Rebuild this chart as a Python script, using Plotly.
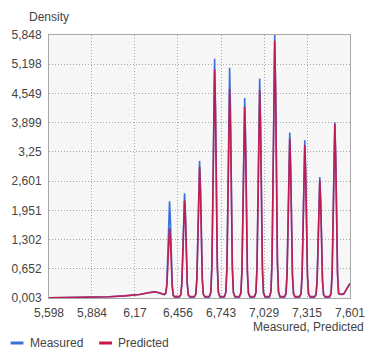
import plotly.graph_objects as go

# x positions of the density curve samples
x_pts = [
    5.598, 5.7, 5.8, 5.9, 6.0, 6.1, 6.2, 6.26, 6.3, 6.33, 6.355,
    6.365, 6.375, 6.382, 6.388, 6.394, 6.4, 6.406, 6.412, 6.418, 6.425, 6.435, 6.45,
    6.465, 6.475, 6.482, 6.488, 6.494, 6.5, 6.506, 6.512, 6.518, 6.525, 6.535, 6.55,
    6.565, 6.575, 6.582, 6.588, 6.594, 6.6, 6.606, 6.612, 6.618, 6.625, 6.635, 6.65,
    6.665, 6.675, 6.682, 6.688, 6.694, 6.7, 6.706, 6.712, 6.718, 6.725, 6.735, 6.75,
    6.765, 6.775, 6.782, 6.788, 6.794, 6.8, 6.806, 6.812, 6.818, 6.825, 6.835, 6.85,
    6.865, 6.875, 6.882, 6.888, 6.894, 6.9, 6.906, 6.912, 6.918, 6.925, 6.935, 6.95,
    6.965, 6.975, 6.982, 6.988, 6.994, 7.0, 7.006, 7.012, 7.018, 7.025, 7.035, 7.05,
    7.065, 7.075, 7.082, 7.088, 7.094, 7.1, 7.106, 7.112, 7.118, 7.125, 7.135, 7.15,
    7.165, 7.175, 7.182, 7.188, 7.194, 7.2, 7.206, 7.212, 7.218, 7.225, 7.235, 7.25,
    7.265, 7.275, 7.282, 7.288, 7.294, 7.3, 7.306, 7.312, 7.318, 7.325, 7.335, 7.35,
    7.365, 7.375, 7.382, 7.388, 7.394, 7.4, 7.406, 7.412, 7.418, 7.425, 7.435, 7.45,
    7.465, 7.475, 7.482, 7.488, 7.494, 7.5, 7.506, 7.512, 7.518, 7.525, 7.535, 7.55,
    7.56, 7.601,
]

measured = [
    0.006, 0.008, 0.012, 0.018, 0.03, 0.05, 0.08, 0.12, 0.14, 0.12, 0.08,
    0.08, 0.10, 0.31, 0.90, 1.74, 2.15, 1.74, 0.90, 0.31, 0.065, 0.022, 0.012,
    0.022, 0.07, 0.33, 0.98, 1.88, 2.33, 1.88, 0.98, 0.33, 0.07, 0.022, 0.015,
    0.023, 0.084, 0.43, 1.27, 2.46, 3.05, 2.46, 1.27, 0.43, 0.084, 0.023, 0.015,
    0.025, 0.13, 0.74, 2.20, 4.28, 5.32, 4.28, 2.20, 0.74, 0.13, 0.025, 0.015,
    0.025, 0.13, 0.71, 2.12, 4.12, 5.12, 4.12, 2.12, 0.71, 0.13, 0.025, 0.015,
    0.024, 0.113, 0.62, 1.84, 3.58, 4.45, 3.58, 1.84, 0.62, 0.113, 0.024, 0.015,
    0.025, 0.12, 0.68, 2.02, 3.92, 4.88, 3.92, 2.02, 0.68, 0.12, 0.025, 0.015,
    0.026, 0.14, 0.81, 2.42, 4.70, 5.85, 4.70, 2.42, 0.81, 0.14, 0.026, 0.015,
    0.024, 0.097, 0.52, 1.53, 2.96, 3.68, 2.96, 1.53, 0.52, 0.097, 0.024, 0.015,
    0.024, 0.094, 0.49, 1.46, 2.83, 3.51, 2.83, 1.46, 0.49, 0.094, 0.024, 0.015,
    0.023, 0.076, 0.38, 1.12, 2.17, 2.69, 2.17, 1.12, 0.38, 0.076, 0.023, 0.015,
    0.024, 0.10, 0.55, 1.62, 3.15, 3.91, 3.15, 1.62, 0.55, 0.10, 0.08, 0.08,
    0.09, 0.33,
]

predicted = [
    0.006, 0.008, 0.012, 0.018, 0.03, 0.05, 0.08, 0.12, 0.14, 0.12, 0.08,
    0.08, 0.11, 0.27, 0.67, 1.27, 1.55, 1.27, 0.67, 0.24, 0.06, 0.035, 0.04,
    0.035, 0.076, 0.32, 0.92, 1.77, 2.17, 1.77, 0.92, 0.32, 0.076, 0.035, 0.035,
    0.035, 0.091, 0.42, 1.23, 2.37, 2.92, 2.37, 1.23, 0.42, 0.091, 0.035, 0.035,
    0.035, 0.137, 0.72, 2.11, 4.09, 5.08, 4.09, 2.11, 0.72, 0.137, 0.035, 0.035,
    0.035, 0.127, 0.66, 1.93, 3.74, 4.64, 3.74, 1.93, 0.66, 0.127, 0.035, 0.035,
    0.034, 0.12, 0.60, 1.77, 3.43, 4.25, 3.43, 1.77, 0.60, 0.12, 0.034, 0.035,
    0.035, 0.127, 0.65, 1.92, 3.73, 4.62, 3.73, 1.92, 0.65, 0.127, 0.035, 0.035,
    0.036, 0.15, 0.80, 2.38, 4.61, 5.72, 4.61, 2.38, 0.80, 0.15, 0.036, 0.035,
    0.034, 0.105, 0.51, 1.49, 2.87, 3.55, 2.87, 1.49, 0.51, 0.105, 0.034, 0.035,
    0.033, 0.10, 0.49, 1.42, 2.75, 3.40, 2.75, 1.42, 0.49, 0.10, 0.033, 0.035,
    0.033, 0.085, 0.38, 1.10, 2.13, 2.62, 2.13, 1.10, 0.38, 0.085, 0.033, 0.035,
    0.034, 0.11, 0.55, 1.62, 3.13, 3.87, 3.13, 1.62, 0.55, 0.11, 0.09, 0.09,
    0.10, 0.33,
]

x_tickvals = [5.598, 5.884, 6.17, 6.456, 6.743, 7.029, 7.315, 7.601]
x_ticktext = ["5,598", "5,884", "6,17", "6,456", "6,743", "7,029", "7,315", "7,601"]
y_tickvals = [0.003, 0.652, 1.302, 1.951, 2.601, 3.25, 3.899, 4.549, 5.198, 5.848]
y_ticktext = ["0,003", "0,652", "1,302", "1,951", "2,601", "3,25", "3,899", "4,549", "5,198", "5,848"]

series_names = ["Measured", "Predicted"]
BLUE = "#3d6fd9"
RED = "#cc1446"

fig = go.Figure()
fig.add_trace(go.Scatter(x=x_pts, y=measured, mode="lines", name=series_names[0],
                         line=dict(color=BLUE, width=1.6)))
fig.add_trace(go.Scatter(x=x_pts, y=predicted, mode="lines", name=series_names[1],
                         line=dict(color=RED, width=1.6), opacity=0.9))

PL, PR, PT, PB = 47, 353, 35, 298
W, H = 377, 354


def px_x(px):
    return (px - PL) / (PR - PL)


def px_y(py):
    return (PB - py) / (PB - PT)


axis_common = dict(
    showgrid=True, gridcolor="#a8a8a8", griddash="1px,2px", gridwidth=1,
    showline=True, linecolor="#a8a8a8", linewidth=1, mirror=True,
    zeroline=False, ticks="", tickfont=dict(size=12, color="#444444"),
)

fig.update_layout(
    width=W, height=H,
    margin=dict(l=PL, r=W - PR, t=PT, b=H - PB),
    paper_bgcolor="white",
    plot_bgcolor="#f7f7f7",
    showlegend=False,
    font=dict(family="Liberation Sans, Arial, sans-serif", size=12, color="#444444"),
    xaxis=dict(range=[5.598, 7.601], tickvals=x_tickvals, ticktext=x_ticktext,
               ticklabelstandoff=4, **axis_common),
    yaxis=dict(range=[0.003, 5.848], tickvals=y_tickvals, ticktext=y_ticktext,
               ticklabelstandoff=4, **axis_common),
)

annotations = [
    dict(text="Density", x=px_x(47), y=px_y(17), xref="paper", yref="paper",
         xanchor="center", yanchor="middle", showarrow=False, font=dict(size=12)),
    dict(text="Measured, Predicted", x=px_x(369), y=px_y(327), xref="paper", yref="paper",
         xanchor="right", yanchor="middle", showarrow=False, font=dict(size=12)),
    dict(text=series_names[0], x=px_x(26), y=px_y(343), xref="paper", yref="paper",
         xanchor="left", yanchor="middle", showarrow=False, font=dict(size=12)),
    dict(text=series_names[1], x=px_x(115), y=px_y(343), xref="paper", yref="paper",
         xanchor="left", yanchor="middle", showarrow=False, font=dict(size=12)),
]
shapes = [
    dict(type="line", xref="paper", yref="paper", x0=px_x(8), x1=px_x(21),
         y0=px_y(343), y1=px_y(343), line=dict(color=BLUE, width=3)),
    dict(type="line", xref="paper", yref="paper", x0=px_x(98), x1=px_x(111),
         y0=px_y(343), y1=px_y(343), line=dict(color=RED, width=3)),
]
fig.update_layout(annotations=annotations, shapes=shapes)

fig.write_html("out.html")
